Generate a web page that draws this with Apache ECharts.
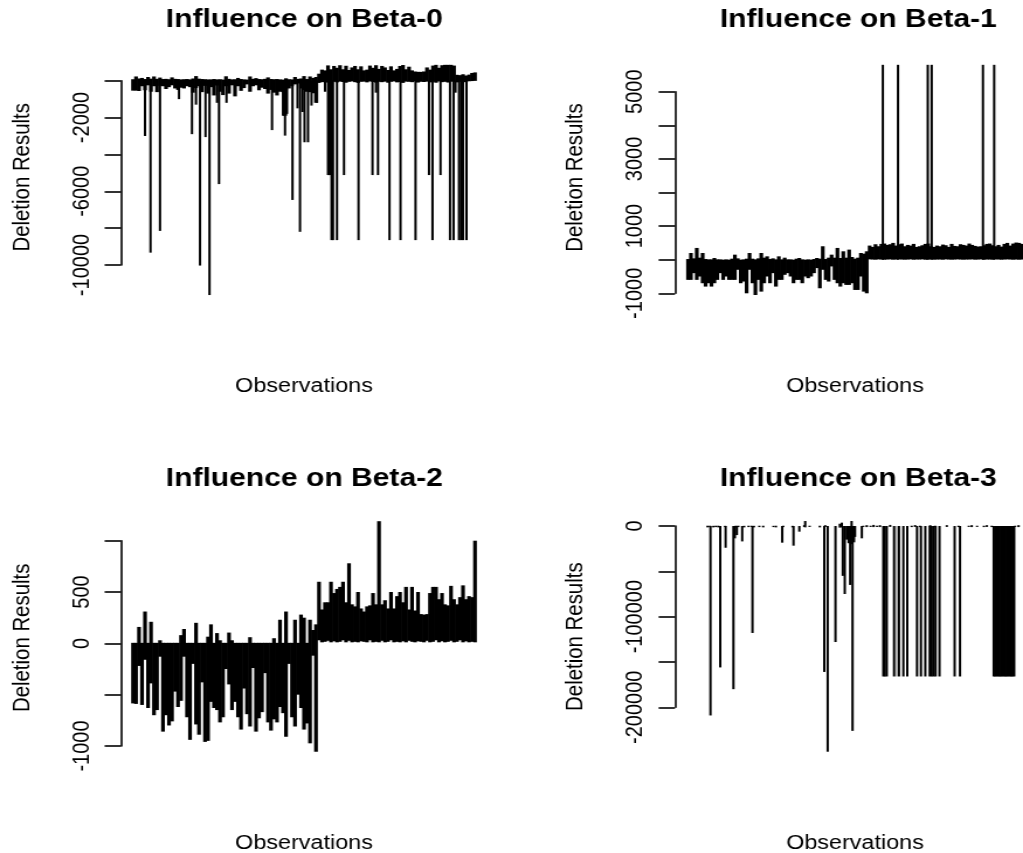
<!DOCTYPE html>
<html>
<head>
<meta charset="utf-8">
<style>
html,body{margin:0;padding:0;background:#fff;overflow:hidden;width:1023px;height:853px}
#chart{width:875px;height:853px;transform:scaleX(1.16914);transform-origin:0 0}
</style>
<script src="https://cdn.jsdelivr.net/npm/echarts@6/dist/echarts.min.js"></script>
</head>
<body>
<div id="chart"></div>
<script>
// ---- data -----------------------------------------------------------------
const titles = ['Influence on Beta-0','Influence on Beta-1','Influence on Beta-2','Influence on Beta-3'];
const xLabel = 'Observations';
const yLabel = 'Deletion Results';

const p1TickLabels = [-2000,-6000,-10000];
const p2TickLabels = [5000,3000,1000,-1000];
const p3TickLabels = [500,0,-1000];
const p4TickLabels = [0,-100000,-200000];

// band sampled every sixth observation: upper and lower ends of the vertical lines
const p1Hi = [80,230,120,150,90,200,110,230,100,170,90,100,80,180,100,90,70,80,90,70,120,250,110,90,80,70,70,90,70,80,60,240,100,70,80,150,90,70,60,230,100,140,90,80,100,180,90,80,90,70,60,130,80,70,200,100,120,250,90,230,150,200,
 380,600,560,830,620,800,700,840,620,810,580,720,800,620,780,560,600,820,700,840,640,800,720,580,780,560,640,800,850,620,760,560,500,480,480,500,720,600,820,860,700,840,860,860,860,820,320,300,350,280,330,420,450];
const p1Lo = [-540,-540,-560,-300,-520,-250,-600,-300,-620,-280,-300,-450,-350,-250,-420,-500,-380,-420,-300,-350,-650,-400,-300,-620,-280,-700,-350,-800,-260,-600,-780,-300,-700,-250,-850,-300,-550,-400,-200,-600,-300,-250,-520,-380,-450,-700,-500,-650,-800,-600,-620,-480,-420,-300,-200,-150,-420,-500,-600,-620,-680,-1200,
 -120,-80,-60,-100,-40,-60,-90,-50,-70,-110,-60,-40,-80,-120,-60,-50,-90,-40,-70,-100,-60,-80,-50,-110,-60,-40,-90,-70,-120,-50,-60,-80,-40,-100,-60,-70,-50,-90,-60,-110,-40,-80,-60,-100,-50,-70,-90,-60,-40,-80,-30,-20,-10];
const p1SpikeObs = [25,36,55,93,119,127,135,146,154,169,173,188,279,301,303,305,307,309,320,330,335,340,344,351,358,369,385,391,393,395,398,401,409,423,452,480,487,491,514,536,566,593,600,616,635,642,646,653,657,661,668];
const p1SpikeVal = [-3000,-9330,-8150,-1000,-2900,-1300,-10030,-3060,-11630,-1200,-5610,-1200,-2680,-1900,-1900,-2980,-1900,-1800,-6470,-1500,-8200,-1700,-3340,-3340,-1350,-1200,-600,-5120,-5120,-5120,-8650,-8650,-8650,-5120,-8650,-5120,-650,-5120,-8650,-8650,-8650,-5120,-8650,-5120,-8650,-8650,-650,-8650,-8650,-8650,-8650];

const p2Hi = [20,200,40,350,60,200,20,10,10,50,10,10,0,10,0,30,150,40,0,10,30,200,30,10,40,200,60,100,20,40,10,100,10,60,10,10,0,30,50,10,0,10,0,20,50,30,400,20,60,150,60,350,50,250,60,300,80,30,60,200,180,250,
 420,380,460,400,470,480,440,460,500,420,460,480,400,440,420,470,380,400,430,470,480,400,380,420,400,450,430,380,470,410,400,460,440,420,480,440,410,390,400,430,470,480,430,400,440,390,470,500,420,480,510,500,470];
const p2Lo = [-600,-600,-400,-600,-500,-700,-800,-700,-800,-700,-600,-400,-600,-500,-600,-600,-600,-300,-700,-650,-1000,-300,-700,-1050,-600,-950,-700,-500,-700,-400,-800,-600,-600,-450,-400,-500,-700,-600,-600,-700,-500,-550,-500,-400,-250,-850,-300,-600,-650,-200,-600,-700,-800,-700,-750,-750,-700,-900,-900,-500,-950,-1000,
 10,5,0,10,5,0,5,10,0,5,10,5,0,5,10,0,5,5,10,0,5,10,0,5,5,0,10,5,0,5,10,5,0,5,5,10,0,5,10,0,5,5,0,10,5,0,5,10,5,0,5,0,5];
const p2SpikeObs = [400,431,492,500,605,628];
const p2SpikeVal = [5800,5800,5800,5800,5800,5800];

const p3Hi = [5,5,160,5,310,5,210,5,5,30,5,5,5,5,5,5,80,140,5,5,5,200,5,5,5,65,185,5,100,30,5,5,105,30,5,5,5,5,5,60,5,5,5,5,5,5,5,50,5,230,5,310,5,5,230,5,280,250,5,230,130,185,
 600,330,400,400,600,490,530,550,600,400,780,380,360,500,340,310,360,370,490,380,1190,380,420,340,500,340,460,500,400,550,330,550,320,500,285,280,285,490,550,550,430,490,380,370,560,430,380,450,565,430,460,450,1000];
const p3Lo = [-585,-590,-220,-600,-160,-630,-390,-700,-650,-130,-860,-700,-800,-760,-470,-620,-560,-130,-720,-940,-200,-790,-890,-380,-960,-950,-570,-630,-650,-770,-720,-250,-400,-650,-570,-720,-840,-440,-690,-810,-240,-860,-730,-670,-290,-770,-850,-740,-770,-620,-680,-910,-200,-720,-810,-500,-630,-840,-780,-974,-120,-1056,
 30,10,15,25,10,20,10,15,30,10,25,10,15,10,20,15,10,30,10,15,10,25,10,15,30,10,15,10,20,10,25,15,10,20,15,10,25,10,15,30,10,20,10,15,25,10,15,30,10,20,10,15,10];

const p4SpikeObs = [47,67,78,94,97,101,112,133,194,217,229,280,287,303,318,322,326,330,333,335,338,341,343,357,
 401,404,408,423,433,442,450,470,478,487,496,500,504,508,516,547,558,
 627,630,633,636,639,642,645,648,651,654,657,660,663,666,669];
const p4SpikeVal = [-209000,-156000,-24000,-180000,-13600,-10000,-17000,-118000,-18400,-21700,-6250,-161000,-249000,-128000,-55000,-75000,-15000,-19000,-65000,-20000,-226000,-18000,-12000,-13600,
 -166000,-166000,-166000,-166000,-166000,-166000,-166000,-166000,-166000,-166000,-166000,-166000,-166000,-166000,-166000,-166000,-166000,
 -166000,-166000,-166000,-166000,-166000,-166000,-166000,-166000,-166000,-166000,-166000,-166000,-166000,-166000,-166000];
const p4FaintObs = [428];
const p4FaintVal = [-166000];
const p4DotObs = [41,46,53,58,63,77,99,104,116,125,131,136,147,155,176,181,196,215,239,241,250,271,282,312,316,336,360,367,375,381,388,394,415,459,466,476,497,507,531,555,576,582,593,607,613,623,671,678];
const p4DotHi  = [300,300,200,300,300,200,300,300,200,300,300,200,300,300,200,300,300,200,900,5500,300,300,900,2500,3700,5500,300,900,300,1200,300,900,1200,300,1000,300,900,300,900,300,300,900,300,300,900,300,300,900];
const p4DotLo  = [-1500,-1200,-1500,-1200,-1500,-1200,-1500,-1200,-1500,-1200,-1000,-1500,-1200,-1500,-1200,-1500,-1200,-1500,-1000,-1500,-1000,-1500,-1000,-1800,-1500,-2000,-1000,-1200,-1000,-1200,-1000,-1200,-1000,-1200,-1000,-1200,-1000,-1200,-1000,-1200,-1000,-1200,-1000,-1200,-1000,-1200,-1000,-1200];

// ---- building the marks ----------------------------------------------------
const band = (hi, lo) => hi.map((h, i) => [1 + 6 * i, lo[i], h]);
const spikes = (obs, val) => obs.map((o, i) => [o, Math.min(val[i], 0), Math.max(val[i], 0)]);
const dots = (obs, hi, lo) => obs.map((o, i) => [o, lo[i], hi[i]]);

// ---- layout, in reference pixels -------------------------------------------
const S = 1023 / 875;
const BAND = 3.2, LINE = 2.0;
const panels = [
 {x0:133,x1:475,axisX:121,yTop:80.7, yBot:265,  min:-10000,max:0,    step:2000, labels:p1TickLabels,titleX:298.5,titleY:14.5,xGap:121,namePad:[0,9,0,0],
  layers:[[band(p1Hi,p1Lo),BAND,'#000'],[spikes(p1SpikeObs,p1SpikeVal),LINE,'#000']]},
 {x0:688,x1:1022,axisX:675,yTop:91.7,yBot:293.3,min:-1000, max:5000, step:1000, labels:p2TickLabels,titleX:852.5,titleY:14.5,xGap:93,namePad:[0,0,0,30],
  layers:[[band(p2Hi,p2Lo),BAND,'#000'],[spikes(p2SpikeObs,p2SpikeVal),LINE,'#000']]},
 {x0:133,x1:475,axisX:121,yTop:540.7,yBot:746,  min:-1000, max:1000, step:500,  labels:p3TickLabels,titleX:298.5,titleY:473.5,xGap:97,namePad:[0,0,0,11],
  layers:[[band(p3Hi,p3Lo),BAND,'#000']]},
 {x0:688,x1:1022,axisX:675,yTop:526, yBot:707.3,min:-200000,max:0,   step:50000,labels:p4TickLabels,titleX:852.5,titleY:473.5,xGap:136,namePad:[0,40,0,0],
  layers:[[spikes(p4FaintObs,p4FaintVal),LINE,'#b8b8b8'],[dots(p4DotObs,p4DotHi,p4DotLo),LINE,'#000'],[spikes(p4SpikeObs,p4SpikeVal),LINE,'#000']]}
];

const FONT = '"Liberation Sans", Arial, sans-serif';
const option = {
  animation:false,
  backgroundColor:'#fff',
  title: panels.map((p,i)=>({
    text:titles[i], left:p.titleX/S, top:p.titleY, textAlign:'center', textVerticalAlign:'middle',
    textStyle:{fontFamily:FONT,fontSize:25.7,fontWeight:'bold',color:'#000'}
  })),
  grid: panels.map(p=>({left:p.x0/S, width:(p.x1-p.x0)/S, top:p.yTop, height:p.yBot-p.yTop, containLabel:false, outerBoundsMode:'none'})),
  xAxis: panels.map((p,i)=>({
    gridIndex:i,type:'value',min:1,max:685,
    axisLine:{show:false},axisTick:{show:false},axisLabel:{show:false},splitLine:{show:false},
    name:xLabel,nameLocation:'middle',nameGap:p.xGap,
    nameTextStyle:{fontFamily:FONT,fontSize:20,color:'#000',verticalAlign:'middle'}
  })),
  yAxis: panels.map((p,i)=>({
    gridIndex:i,type:'value',min:p.min,max:p.max,interval:p.step,position:'left',
    offset:(p.x0-p.axisX)/S,
    axisLine:{show:true,lineStyle:{color:'#000',width:1.6}},
    axisTick:{show:true,length:14,lineStyle:{color:'#000',width:1.6}},
    splitLine:{show:false},
    axisLabel:{show:true,rotate:90,margin:23.5,fontFamily:FONT,fontSize:20,color:'#000',
      showMinLabel:true,showMaxLabel:true,hideOverlap:false,
      formatter:v=>p.labels.includes(v)?String(v):''},
    name:yLabel,nameLocation:'middle',nameRotate:90,nameGap:74.5,
    nameTextStyle:{fontFamily:FONT,fontSize:20.4,color:'#000',padding:p.namePad}
  })),
  series: panels.flatMap((p,i)=>p.layers.map(([data,w,color])=>({
    type:'custom',xAxisIndex:i,yAxisIndex:i,clip:false,silent:true,
    encode:{x:0,y:[1,2]},data,
    renderItem:(params,api)=>{
      const a=api.coord([api.value(0),api.value(1)]);
      const b=api.coord([api.value(0),api.value(2)]);
      return {type:'line',shape:{x1:a[0],y1:a[1],x2:b[0],y2:b[1]},style:{stroke:color,lineWidth:w}};
    }
  })))
};
const chart = echarts.init(document.getElementById('chart'),null,{renderer:'canvas'});
chart.setOption(option);
</script>
</body>
</html>
